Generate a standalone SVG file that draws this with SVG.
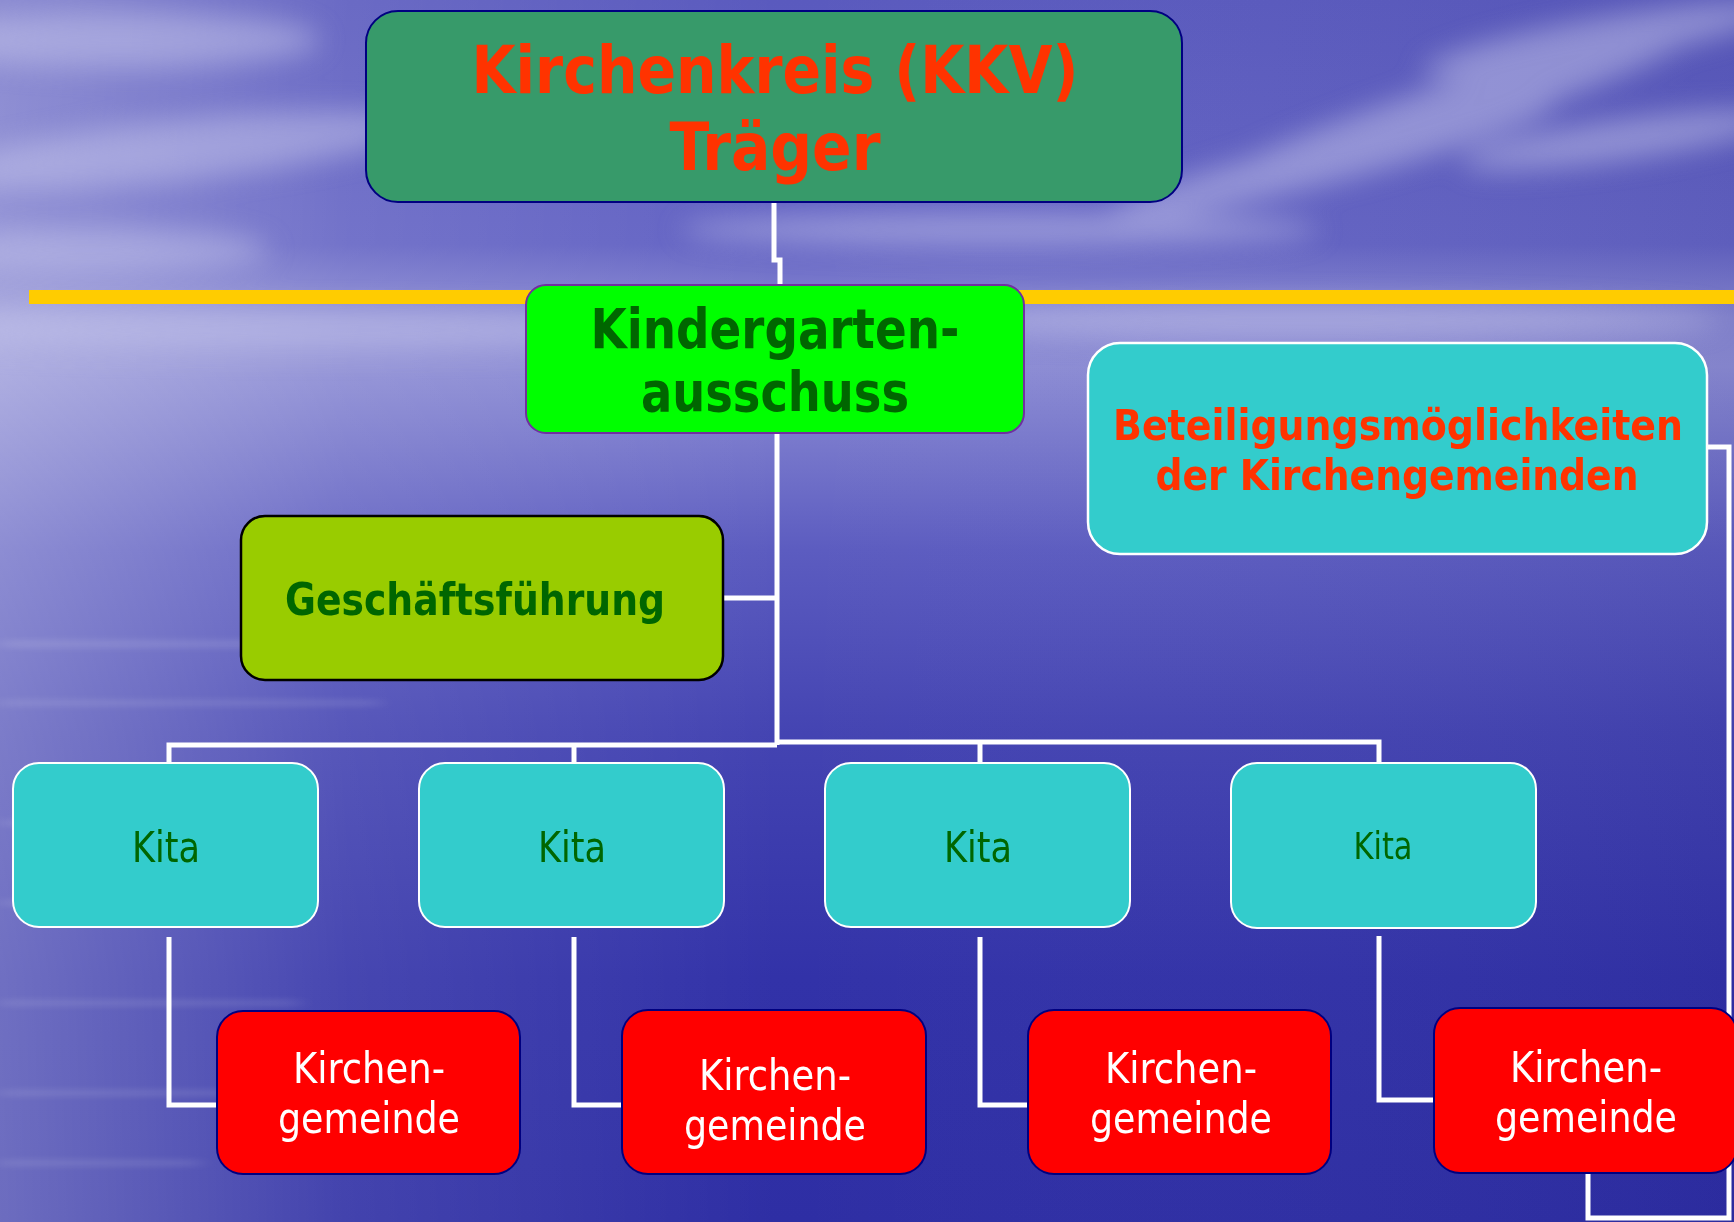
<svg xmlns="http://www.w3.org/2000/svg" width="1734" height="1222" viewBox="0 0 1734 1222">
<defs>
<linearGradient id="bgv" x1="0" y1="0" x2="0" y2="1">
<stop offset="0" stop-color="#5a5abe"/>
<stop offset="0.2" stop-color="#6464c4"/>
<stop offset="0.235" stop-color="#7a7acc"/>
<stop offset="0.26" stop-color="#8888d2"/>
<stop offset="0.3" stop-color="#8c8cd4"/>
<stop offset="0.45" stop-color="#5c5cc0"/>
<stop offset="0.6" stop-color="#4444b2"/>
<stop offset="0.8" stop-color="#3232a8"/>
<stop offset="1" stop-color="#2e2ea4"/>
</linearGradient>
<linearGradient id="bgh" x1="0" y1="0" x2="1" y2="0">
<stop offset="0" stop-color="#ffffff" stop-opacity="0.3"/>
<stop offset="0.2" stop-color="#ffffff" stop-opacity="0.1"/>
<stop offset="0.45" stop-color="#ffffff" stop-opacity="0"/>
<stop offset="1" stop-color="#000040" stop-opacity="0.06"/>
</linearGradient>
<radialGradient id="glow" cx="0" cy="0.5" r="0.5">
<stop offset="0" stop-color="#f4f4fc" stop-opacity="0.85"/>
<stop offset="0.4" stop-color="#d8d8f0" stop-opacity="0.4"/>
<stop offset="1" stop-color="#c0c0e8" stop-opacity="0"/>
</radialGradient>
<filter id="blur" x="-20%" y="-50%" width="140%" height="200%"><feGaussianBlur stdDeviation="14"/></filter>
<filter id="blur2" x="-20%" y="-200%" width="140%" height="500%"><feGaussianBlur stdDeviation="10 3"/></filter>
<style>
.conn{fill:none;stroke:#ffffff;stroke-width:5;stroke-linejoin:miter;stroke-linecap:butt}
.bold{font-family:"DejaVu Sans Condensed","DejaVu Sans",sans-serif;font-weight:bold;text-anchor:middle}
.reg{font-family:"DejaVu Sans Condensed","DejaVu Sans",sans-serif;font-weight:normal;text-anchor:middle}
.kita rect{fill:#33cccc;stroke:#ffffff;stroke-width:2}
.kita text{fill:#006600;font-size:42px}
.kg rect{fill:#ff0000;stroke:#000080;stroke-width:2}
.kg text{fill:#ffffff;font-size:42px}
</style>
</defs>

<g id="background">
<rect x="0" y="0" width="1734" height="1222" fill="url(#bgv)"/>
<rect x="0" y="0" width="1734" height="1222" fill="url(#bgh)"/>
<g filter="url(#blur)" fill="#c8c8ec" opacity="0.5">
<ellipse cx="120" cy="40" rx="200" ry="28"/>
<ellipse cx="180" cy="150" rx="240" ry="30" transform="rotate(-6 180 150)"/>
<ellipse cx="90" cy="250" rx="180" ry="22"/>
<ellipse cx="1450" cy="110" rx="260" ry="26" transform="rotate(-18 1450 110)"/>
<ellipse cx="1330" cy="160" rx="230" ry="22" transform="rotate(-14 1330 160)"/>
<ellipse cx="1600" cy="40" rx="180" ry="22" transform="rotate(-10 1600 40)"/>
<ellipse cx="1620" cy="140" rx="160" ry="20" transform="rotate(-8 1620 140)"/>
<ellipse cx="1000" cy="230" rx="320" ry="18"/>
<ellipse cx="300" cy="330" rx="420" ry="20"/>
<ellipse cx="1300" cy="320" rx="420" ry="18"/>
</g>
<ellipse cx="0" cy="560" rx="380" ry="420" fill="url(#glow)"/>
<g filter="url(#blur2)" fill="#ffffff" opacity="0.12">
<rect x="0" y="640" width="420" height="8"/>
<rect x="0" y="700" width="380" height="6"/>
<rect x="0" y="820" width="300" height="6"/>
<rect x="0" y="900" width="260" height="6"/>
<rect x="0" y="1000" width="300" height="6"/>
<rect x="0" y="1090" width="240" height="6"/>
<rect x="0" y="1160" width="200" height="6"/>
</g>
<rect x="29" y="290" width="1705" height="14" fill="#ffcc00"/>
</g>

<g id="connectors">
<path class="conn" d="M774,202 V260 H780 V286"/>
<path class="conn" d="M777,433 V745"/>
<path class="conn" d="M723,598 H777"/>
<path class="conn" d="M777,745 H169 V763"/>
<path class="conn" d="M777,742 H1379 V763"/>
<path class="conn" d="M574,745 V763"/>
<path class="conn" d="M980,742 V763"/>
<path class="conn" d="M169,937 V1105 H217"/>
<path class="conn" d="M574,937 V1105 H622"/>
<path class="conn" d="M980,937 V1105 H1028"/>
<path class="conn" d="M1379,936 V1100 H1434"/>
<path class="conn" d="M1707,447 H1729 V1218 H1588 V1173"/>
</g>

<g id="node-kirchenkreis">
<rect x="366" y="11" width="816" height="191" rx="32" ry="32" fill="#379a6a" stroke="#000080" stroke-width="2"/>
<text class="bold" x="775" y="93" font-size="65" fill="#ff3300" textLength="607" lengthAdjust="spacingAndGlyphs">Kirchenkreis (KKV)</text>
<text class="bold" x="775" y="170" font-size="65" fill="#ff3300" textLength="211" lengthAdjust="spacingAndGlyphs">Träger</text>
</g>

<g id="node-kindergartenausschuss">
<rect x="526" y="285" width="498" height="148" rx="20" ry="20" fill="#00ff00" stroke="#7030a0" stroke-width="2"/>
<text class="bold" x="775" y="348" font-size="56" fill="#006600" textLength="369" lengthAdjust="spacingAndGlyphs">Kindergarten-</text>
<text class="bold" x="775" y="411" font-size="56" fill="#006600" textLength="268" lengthAdjust="spacingAndGlyphs">ausschuss</text>
</g>

<g id="node-beteiligung">
<rect x="1088" y="343" width="619" height="211" rx="32" ry="32" fill="#33cccc" stroke="#ffffff" stroke-width="2.5"/>
<text class="bold" x="1398" y="440" font-size="42" fill="#ff3300" textLength="570" lengthAdjust="spacingAndGlyphs">Beteiligungsmöglichkeiten</text>
<text class="bold" x="1397" y="490" font-size="42" fill="#ff3300" textLength="483" lengthAdjust="spacingAndGlyphs">der Kirchengemeinden</text>
</g>

<g id="node-geschaeftsfuehrung">
<rect x="241" y="516" width="482" height="164" rx="24" ry="24" fill="#99cc00" stroke="#000000" stroke-width="2.5"/>
<text class="bold" x="475" y="615" font-size="45" fill="#006600" textLength="380" lengthAdjust="spacingAndGlyphs">Geschäftsführung</text>
</g>

<g id="node-kita1" class="kita">
<rect x="13" y="763" width="305" height="164" rx="26" ry="26"/>
<text class="reg" x="166" y="862" textLength="68" lengthAdjust="spacingAndGlyphs">Kita</text>
</g>
<g id="node-kita2" class="kita">
<rect x="419" y="763" width="305" height="164" rx="26" ry="26"/>
<text class="reg" x="572" y="862" textLength="68" lengthAdjust="spacingAndGlyphs">Kita</text>
</g>
<g id="node-kita3" class="kita">
<rect x="825" y="763" width="305" height="164" rx="26" ry="26"/>
<text class="reg" x="978" y="862" textLength="68" lengthAdjust="spacingAndGlyphs">Kita</text>
</g>
<g id="node-kita4" class="kita">
<rect x="1231" y="763" width="305" height="165" rx="26" ry="26"/>
<text class="reg" x="1383" y="859" style="font-size:37px" textLength="59" lengthAdjust="spacingAndGlyphs">Kita</text>
</g>

<g id="node-kg1" class="kg">
<rect x="217" y="1011" width="303" height="163" rx="26" ry="26"/>
<text class="reg" x="369" y="1083" textLength="152" lengthAdjust="spacingAndGlyphs">Kirchen-</text>
<text class="reg" x="369" y="1133" textLength="182" lengthAdjust="spacingAndGlyphs">gemeinde</text>
</g>
<g id="node-kg2" class="kg">
<rect x="622" y="1010" width="304" height="164" rx="26" ry="26"/>
<text class="reg" x="775" y="1090" textLength="152" lengthAdjust="spacingAndGlyphs">Kirchen-</text>
<text class="reg" x="775" y="1140" textLength="182" lengthAdjust="spacingAndGlyphs">gemeinde</text>
</g>
<g id="node-kg3" class="kg">
<rect x="1028" y="1010" width="303" height="164" rx="26" ry="26"/>
<text class="reg" x="1181" y="1083" textLength="152" lengthAdjust="spacingAndGlyphs">Kirchen-</text>
<text class="reg" x="1181" y="1133" textLength="182" lengthAdjust="spacingAndGlyphs">gemeinde</text>
</g>
<g id="node-kg4" class="kg">
<rect x="1434" y="1008" width="303" height="165" rx="26" ry="26"/>
<text class="reg" x="1586" y="1082" textLength="152" lengthAdjust="spacingAndGlyphs">Kirchen-</text>
<text class="reg" x="1586" y="1132" textLength="182" lengthAdjust="spacingAndGlyphs">gemeinde</text>
</g>
</svg>
